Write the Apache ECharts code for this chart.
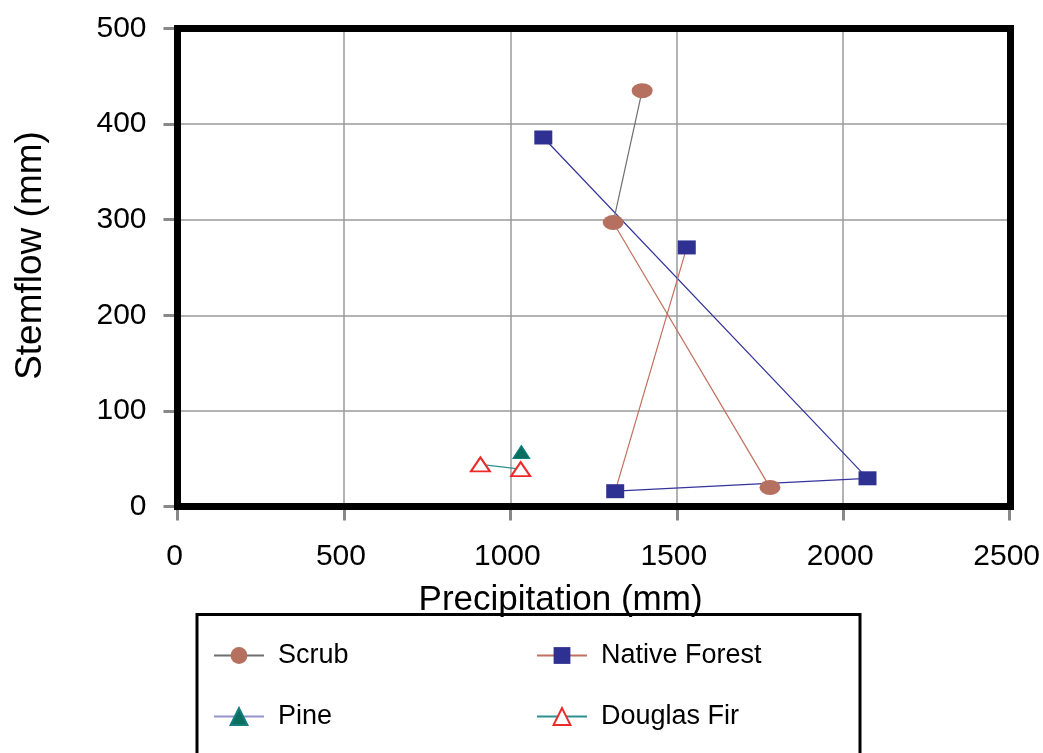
<!DOCTYPE html>
<html>
<head>
<meta charset="utf-8">
<title>Stemflow vs Precipitation</title>
<script src="https://cdn.jsdelivr.net/npm/echarts@6/dist/echarts.min.js"></script>
<style>
  html, body { margin: 0; padding: 0; background: #fff; }
  #chart { width: 1043px; height: 753px; }
</style>
</head>
<body>
<div id="chart"></div>
<script>
// Precipitation (mm) and stemflow (mm) by vegetation type
const scrubPrecip = [1396, 1309, 1780];
const scrubStemflow = [435, 297, 20];
const forestPrecip = [1099, 2073, 1315, 1530];
const forestStemflow = [386, 29.5, 16, 271];
const pinePrecip = [1033];
const pineStemflow = [57];
const firPrecip = [910, 1031];
const firStemflow = [44, 39];

// Point order of each trace; -1 breaks the line
const scrubTrace = [0, 1, -1, 2];
const forestTrace = [0, -1, 1, -1, 2, 3];
const pineTrace = [0];
const firTrace = [0, 1];
// Joining lines drawn in another series' colour
const scrubLinkTrace = [1, 2];
const forestLinkTrace = [0, 1, 2];

const xTicks = [0, 500, 1000, 1500, 2000, 2500];
const yTicks = [0, 100, 200, 300, 400, 500];

function tracePoints(xs, ys, order) {
  return order.map(i => (i < 0 ? ['-', '-'] : [xs[i], ys[i]]));
}

const FONT = 'Liberation Sans, Arial, Helvetica, sans-serif';
const ellipse = 'path://M1,0A1,1,0,1,1,-1,0A1,1,0,1,1,1,0Z';

const BROWN_LINE = '#c0705e';
const BLUE_LINE = '#34349c';

const chart = echarts.init(document.getElementById('chart'), null, { renderer: 'canvas' });

const legendCommon = {
  orient: 'horizontal',
  padding: 0,
  itemWidth: 50,
  itemHeight: 21,
  selectedMode: false,
  textStyle: { fontFamily: FONT, fontSize: 27, color: '#000', padding: [0, 0, 0, 9] }
};

const plainNumber = v => String(v);

const option = {
  animation: false,
  backgroundColor: '#fff',
  grid: { left: 177.5, right: 32.5, top: 28.5, bottom: 246.5, containLabel: false },
  xAxis: {
    type: 'value',
    min: xTicks[0],
    max: xTicks[xTicks.length - 1],
    interval: xTicks[1] - xTicks[0],
    name: 'Precipitation (mm)',
    nameLocation: 'middle',
    nameGap: 76,
    nameTextStyle: { fontFamily: FONT, fontSize: 35, color: '#000', padding: [0, 66, 0, 0] },
    axisLine: { show: false },
    axisTick: { show: true, inside: false, length: 14, lineStyle: { color: '#888', width: 3 } },
    axisLabel: { margin: 35, fontFamily: FONT, fontSize: 30, color: '#000', padding: [0, 6, 0, 0], formatter: plainNumber },
    splitLine: { show: true, lineStyle: { color: '#9a9a9a', width: 1.5 } }
  },
  yAxis: {
    type: 'value',
    min: yTicks[0],
    max: yTicks[yTicks.length - 1],
    interval: yTicks[1] - yTicks[0],
    name: 'Stemflow (mm)',
    nameLocation: 'middle',
    nameGap: 128,
    nameTextStyle: { fontFamily: FONT, fontSize: 37, color: '#000', padding: [0, 0, 0, 24] },
    axisLine: { show: false },
    axisTick: { show: true, inside: false, length: 14, lineStyle: { color: '#888', width: 3 } },
    axisLabel: { margin: 31, fontFamily: FONT, fontSize: 30, color: '#000', formatter: plainNumber },
    splitLine: { show: true, lineStyle: { color: '#9a9a9a', width: 1.5 } }
  },
  legend: [
    Object.assign({ data: ['Scrub'], left: 213, top: 642 }, legendCommon),
    Object.assign({ data: ['Native Forest'], left: 536, top: 642 }, legendCommon),
    Object.assign({ data: ['Pine'], left: 213, top: 703 }, legendCommon),
    Object.assign({ data: ['Douglas Fir'], left: 536, top: 703 }, legendCommon)
  ],
  graphic: [
    {
      type: 'rect', z: 50, silent: true,
      shape: { x: 177.5, y: 28.5, width: 833, height: 478 },
      style: { fill: 'none', stroke: '#000', lineWidth: 7 }
    },
    {
      type: 'rect', z: 50, silent: true,
      shape: { x: 197, y: 614.5, width: 663, height: 200 },
      style: { fill: 'none', stroke: '#000', lineWidth: 3 }
    }
  ],
  series: [
    {
      name: 'scrub-link', type: 'line', z: 1, silent: true, symbol: 'none',
      data: tracePoints(scrubPrecip, scrubStemflow, scrubLinkTrace),
      lineStyle: { color: BROWN_LINE, width: 1.2 }
    },
    {
      name: 'forest-link', type: 'line', z: 1, silent: true, symbol: 'none',
      data: tracePoints(forestPrecip, forestStemflow, forestLinkTrace),
      lineStyle: { color: BLUE_LINE, width: 1.2 }
    },
    {
      name: 'Scrub', type: 'line', z: 3,
      data: tracePoints(scrubPrecip, scrubStemflow, scrubTrace),
      symbol: ellipse, symbolSize: [21, 15],
      itemStyle: { color: '#b57060' },
      lineStyle: { color: '#6f6f6f', width: 1.2 }
    },
    {
      name: 'Native Forest', type: 'line', z: 3,
      data: tracePoints(forestPrecip, forestStemflow, forestTrace),
      symbol: 'rect', symbolSize: [18, 14],
      itemStyle: { color: '#2e3192' },
      lineStyle: { color: BROWN_LINE, width: 1.2 }
    },
    {
      name: 'Pine', type: 'line', z: 3,
      data: tracePoints(pinePrecip, pineStemflow, pineTrace),
      symbol: 'triangle', symbolSize: [17, 13],
      itemStyle: { color: '#0b6e5e', borderColor: '#138080', borderWidth: 1 },
      lineStyle: { color: '#9494cc', width: 1.5 }
    },
    {
      name: 'Douglas Fir', type: 'line', z: 3,
      data: tracePoints(firPrecip, firStemflow, firTrace),
      symbol: 'triangle', symbolSize: [19, 14],
      itemStyle: { color: '#ffffff', borderColor: '#ec2a2a', borderWidth: 2 },
      lineStyle: { color: '#2e9090', width: 1.2 }
    }
  ]
};

chart.setOption(option);
</script>
</body>
</html>
